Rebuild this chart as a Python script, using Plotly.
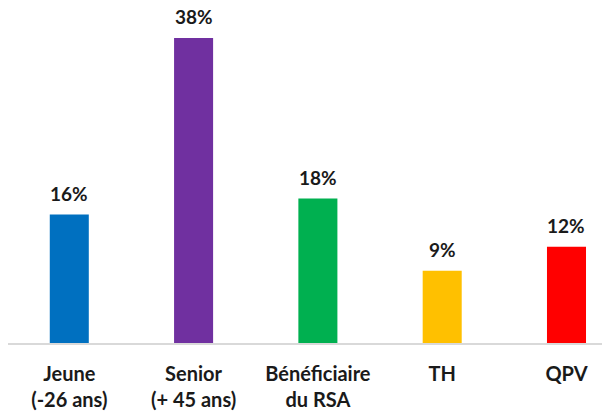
import plotly.graph_objects as go

categories = ["Jeune<br>(-26 ans)", "Senior<br>(+ 45 ans)", "Bénéficiaire<br>du RSA", "TH", "QPV"]
values = [16, 38, 18, 9, 12]
colors = ["#0070C0", "#7030A0", "#00B050", "#FFC000", "#FF0000"]
value_labels = [f"{v}%" for v in values]

FONT = "Lato, 'Open Sans', sans-serif"
TEXT_COLOR = "#1a1a1a"

fig = go.Figure(
    data=[
        go.Bar(
            x=categories,
            y=values,
            marker=dict(color=colors, line=dict(width=0)),
            hoverinfo="skip",
        )
    ]
)

# étiquettes de valeur au-dessus des barres
for cat, val, lab in zip(categories, values, value_labels):
    fig.add_annotation(
        x=cat, y=val, text=f"<b>{lab}</b>", showarrow=False,
        yanchor="bottom", yshift=8,
        font=dict(family=FONT, size=19, color=TEXT_COLOR),
    )

# la page ajoute une marge de 8 px : figure réduite d'autant
fig.update_layout(
    width=602,
    height=405,
    margin=dict(l=0, r=0, t=0, b=70),
    paper_bgcolor="white",
    plot_bgcolor="white",
    showlegend=False,
    bargap=0.686,
    font=dict(family=FONT, color=TEXT_COLOR),
)
fig.update_xaxes(
    range=[-0.493, 4.35],
    showline=True, linecolor="#D9D9D9", linewidth=2,
    showgrid=False, ticks="",
    tickfont=dict(family=FONT, size=20, color=TEXT_COLOR, weight="bold"),
    ticklabelstandoff=12,
)
fig.update_yaxes(range=[0, 41.74], visible=False, showgrid=False)

fig.write_html("out.html")
